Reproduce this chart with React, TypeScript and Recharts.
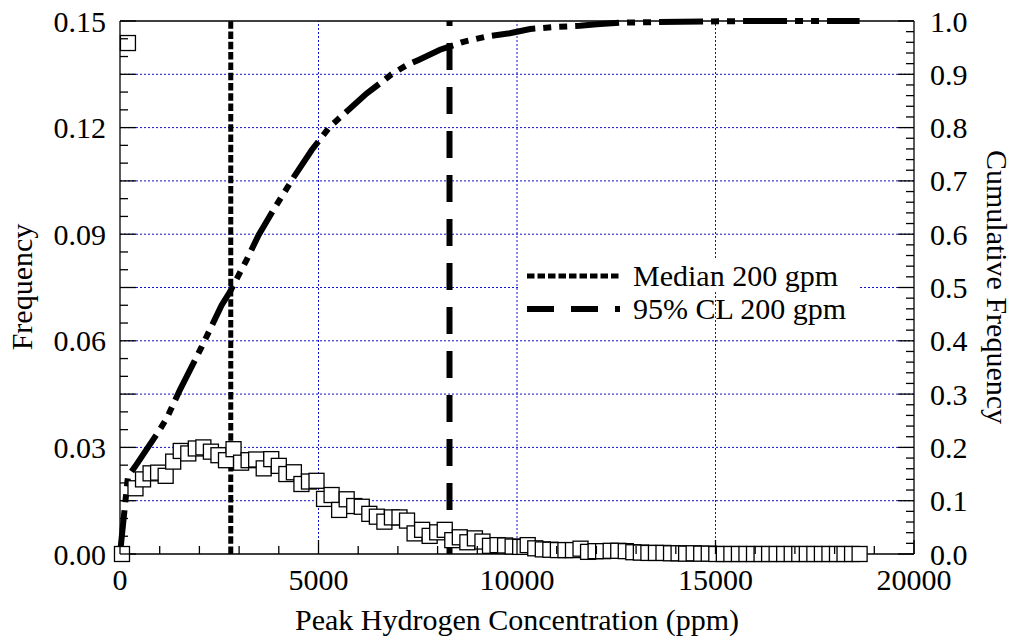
import React from 'react';
import { ComposedChart, Line, Scatter, XAxis, YAxis, ReferenceLine, Legend } from 'recharts';

const FONT = '"Liberation Serif", "Times New Roman", serif';
const FS = 30;

// histogram bins (ppm) and frequency
const freqX = [
  50, 200, 390, 580, 770, 960, 1150, 1340, 1530, 1720, 1910, 2100, 2290, 2480, 2670, 2860, 3050, 3240, 3430, 3620,
  3810, 4000, 4190, 4380, 4570, 4760, 4950, 5140, 5330, 5520, 5710, 5900, 6090, 6280, 6470, 6660, 6850, 7040, 7230, 7420,
  7610, 7800, 7990, 8180, 8370, 8560, 8750, 8940, 9130, 9320, 9510, 9700, 9890, 10080, 10270, 10460, 10650, 10840, 11030, 11220,
  11410, 11600, 11790, 11980, 12170, 12360, 12550, 12740, 12930, 13120, 13310, 13500, 13690, 13880, 14070, 14260, 14450, 14640, 14830, 15020,
  15210, 15400, 15590, 15780, 15970, 16160, 16350, 16540, 16730, 16920, 17110, 17300, 17490, 17680, 17870, 18060, 18250, 18440, 18630,
];
const freqY = [
  0, 0.1438, 0.0185, 0.021, 0.0227, 0.0229, 0.022, 0.026, 0.029, 0.0283, 0.0297, 0.03, 0.0288, 0.0278, 0.0264, 0.0295, 0.0257, 0.0264, 0.0266, 0.0241,
  0.0267, 0.0248, 0.0225, 0.023, 0.0197, 0.0204, 0.0206, 0.0155, 0.0166, 0.0124, 0.0154, 0.0135, 0.0133, 0.0113, 0.0105, 0.0091, 0.0103, 0.0103, 0.0094, 0.0058,
  0.0068, 0.0051, 0.0061, 0.0068, 0.0039, 0.0047, 0.0033, 0.0044, 0.0035, 0.0023, 0.0025, 0.0024, 0.0021, 0.002, 0.0025, 0.0016, 0.0013, 0.0012, 0.0011, 0.0011,
  0.0011, 0.0015, 0.0006, 0.0008, 0.0008, 0.0009, 0.0009, 0.0008, 0.0005, 0.0004, 0.0003, 0.0003, 0.0003, 0.0002, 0.0002, 0.0001, 0.0002, 0.0001, 0.0001, 0,
  0, 0, 0, 0, 0, 0, 0, 0, 0, 0, 0, 0, 0, 0, 0, 0, 0, 0, 0,
];

// cumulative frequency curve
const cumX = [0, 200, 380, 1000, 1180, 1510, 2060, 2560, 2770, 3190, 3490, 3860, 4410, 4830, 5290, 6210, 6550, 6840, 7220, 7520, 8060, 8650, 9240, 9820, 10330, 11000, 11590, 12010, 12680, 13500, 15870, 18630];
const cumY = [0, 0.145, 0.164, 0.233, 0.255, 0.308, 0.389, 0.467, 0.492, 0.552, 0.598, 0.645, 0.711, 0.758, 0.802, 0.864, 0.883, 0.9, 0.917, 0.927, 0.946, 0.961, 0.971, 0.977, 0.985, 0.989, 0.991, 0.994, 0.997, 0.998, 1.0, 1.0];

const medianX = 2790;
const cl95X = 8300;

const xTicks = [0, 1000, 2000, 3000, 4000, 5000, 6000, 7000, 8000, 9000, 10000, 11000, 12000, 13000, 14000, 15000, 16000, 17000, 18000, 19000, 20000];
const xLabels = ['0', '5000', '10000', '15000', '20000'];
const freqTicks = [0, 0.005, 0.01, 0.015, 0.02, 0.025, 0.03, 0.035, 0.04, 0.045, 0.05, 0.055, 0.06, 0.065, 0.07, 0.075, 0.08, 0.085, 0.09, 0.095, 0.1, 0.105, 0.11, 0.115, 0.12, 0.125, 0.13, 0.135, 0.14, 0.145, 0.15];
const freqLabels = ['0.00', '0.03', '0.06', '0.09', '0.12', '0.15'];
const cumTicks = [0, 0.02, 0.04, 0.06, 0.08, 0.1, 0.12, 0.14, 0.16, 0.18, 0.2, 0.22, 0.24, 0.26, 0.28, 0.3, 0.32, 0.34, 0.36, 0.38, 0.4, 0.42, 0.44, 0.46, 0.48, 0.5, 0.52, 0.54, 0.56, 0.58, 0.6, 0.62, 0.64, 0.66, 0.68, 0.7, 0.72, 0.74, 0.76, 0.78, 0.8, 0.82, 0.84, 0.86, 0.88, 0.9, 0.92, 0.94, 0.96, 0.98, 1.0];
const cumLabels = ['0.0', '0.1', '0.2', '0.3', '0.4', '0.5', '0.6', '0.7', '0.8', '0.9', '1.0'];
const gridFreq = [0.015, 0.03, 0.045, 0.06, 0.075, 0.09, 0.105, 0.12, 0.135];
const gridX = [5000, 10000, 15000];

const legendItems = [
  { label: 'Median 200 gpm', dash: '7.5 3', width: 5 },
  { label: '95% CL 200 gpm', dash: '27 17', width: 6 },
];

const freqData = freqX.map((x, i) => ({ x, y: freqY[i] }));
const cumData = cumX.map((x, i) => ({ x, c: cumY[i] }));

const GRID = '#1010d0';
const tickStyle = { fontFamily: FONT, fontSize: FS, fill: '#000' };

const BottomTick = (p: any) => {
  const major = p.index % 5 === 0;
  return (
    <g>
      <line x1={p.x} y1={p.y} x2={p.x} y2={p.y - (major ? 14 : 8)} stroke="#000" strokeWidth={1.3} />
      {major && (
        <text x={p.x} y={p.y + 25} textAnchor="middle" dominantBaseline="central" style={tickStyle}>
          {xLabels[p.index / 5]}
        </text>
      )}
    </g>
  );
};

const TopTick = (p: any) => (
  <line x1={p.x} y1={p.y} x2={p.x} y2={p.y + (p.index % 5 === 0 ? 14 : 8)} stroke="#000" strokeWidth={1.3} />
);

const LeftTick = (p: any) => {
  const major = p.index % 3 === 0;
  const labelled = p.index % 6 === 0;
  return (
    <g>
      <line x1={p.x} y1={p.y} x2={p.x + (major ? 16 : 8)} y2={p.y} stroke="#000" strokeWidth={1.3} />
      {labelled && (
        <text x={p.x - 14} y={p.y} textAnchor="end" dominantBaseline="central" style={tickStyle}>
          {freqLabels[p.index / 6]}
        </text>
      )}
    </g>
  );
};

const RightTick = (p: any) => {
  const major = p.index % 5 === 0;
  return (
    <g>
      <line x1={p.x} y1={p.y} x2={p.x - (major ? 16 : 8)} y2={p.y} stroke="#000" strokeWidth={1.3} />
      {major && (
        <text x={p.x + 16} y={p.y} textAnchor="start" dominantBaseline="central" style={tickStyle}>
          {cumLabels[p.index / 5]}
        </text>
      )}
    </g>
  );
};

const Square = (p: any) => (
  <rect x={p.cx - 7.5} y={p.cy - 7.5} width={15} height={15} fill="#fff" stroke="#000" strokeWidth={1.3} />
);

const renderLegend = () => (
  <div style={{ fontFamily: FONT, fontSize: FS, color: '#000' }}>
    {legendItems.map((it, i) => (
      <div
        key={it.label}
        style={{ display: 'flex', alignItems: 'center', height: 33, paddingLeft: 9, background: i === 0 ? '#fff' : 'transparent' }}
      >
        <svg width={93} height={10}>
          <line x1={0} y1={5} x2={93} y2={5} stroke="#000" strokeWidth={it.width} strokeDasharray={it.dash} />
        </svg>
        <span style={{ marginLeft: 13, lineHeight: '33px', whiteSpace: 'nowrap' }}>{it.label}</span>
      </div>
    ))}
  </div>
);

const axisTitle: React.CSSProperties = {
  position: 'absolute',
  fontFamily: FONT,
  fontSize: FS,
  color: '#000',
  whiteSpace: 'nowrap',
};

export default function App() {
  return (
    <div style={{ position: 'absolute', left: 0, top: 0, width: 1020, height: 640, background: '#fff' }}>
      <ComposedChart width={1020} height={640} margin={{ top: 20, right: 26, bottom: 26, left: 40 }}>
        <XAxis
          dataKey="x"
          type="number"
          domain={[0, 20000]}
          ticks={xTicks}
          interval={0}
          height={60}
          tickSize={0}
          tickMargin={0}
          tick={(p: any) => <BottomTick {...p} />}
          axisLine={{ stroke: '#000', strokeWidth: 1.3 }}
          tickLine={false}
        />
        <XAxis
          xAxisId="top"
          orientation="top"
          dataKey="x"
          type="number"
          domain={[0, 20000]}
          ticks={xTicks}
          interval={0}
          height={1}
          tickSize={0}
          tickMargin={0}
          tick={(p: any) => <TopTick {...p} />}
          axisLine={{ stroke: '#000', strokeWidth: 1.3 }}
          tickLine={false}
        />
        <YAxis
          yAxisId="freq"
          type="number"
          domain={[0, 0.15]}
          ticks={freqTicks}
          interval={0}
          width={80}
          tickSize={0}
          tickMargin={0}
          tick={(p: any) => <LeftTick {...p} />}
          axisLine={{ stroke: '#000', strokeWidth: 1.3 }}
          tickLine={false}
        />
        <YAxis
          yAxisId="cum"
          orientation="right"
          type="number"
          domain={[0, 1]}
          ticks={cumTicks}
          interval={0}
          width={80}
          tickSize={0}
          tickMargin={0}
          tick={(p: any) => <RightTick {...p} />}
          axisLine={{ stroke: '#000', strokeWidth: 1.3 }}
          tickLine={false}
        />
        {gridFreq.map((v) => (
          <ReferenceLine key={'gy' + v} yAxisId="freq" y={v} stroke={GRID} strokeWidth={1} strokeDasharray="2 2" />
        ))}
        {gridX.map((v) => (
          <ReferenceLine key={'gx' + v} yAxisId="freq" x={v} stroke={GRID} strokeWidth={1} strokeDasharray="2 2" />
        ))}
        <ReferenceLine yAxisId="freq" x={medianX} stroke="#000" strokeWidth={5} strokeDasharray="7.5 2.8" />
        <ReferenceLine yAxisId="freq" x={cl95X} stroke="#000" strokeWidth={6} strokeDasharray="27 17" />
        <Line
          data={cumData}
          yAxisId="cum"
          dataKey="c"
          type="linear"
          stroke="#000"
          strokeWidth={6}
          strokeDasharray="44 8 8 8 8 8"
          dot={false}
          activeDot={false}
          isAnimationActive={false}
        />
        <Scatter data={freqData} yAxisId="freq" dataKey="y" shape={Square} isAnimationActive={false} />
        <Legend
          layout="horizontal"
          verticalAlign="middle"
          align="center"
          content={renderLegend}
          wrapperStyle={{ left: 518, top: 259, width: 340 }}
        />
      </ComposedChart>
      <div style={{ ...axisTitle, left: 22, top: 287, transform: 'translate(-50%, -50%) rotate(-90deg)' }}>Frequency</div>
      <div style={{ ...axisTitle, left: 997, top: 287, transform: 'translate(-50%, -50%) rotate(90deg)' }}>
        Cumulative Frequency
      </div>
      <div style={{ ...axisTitle, left: 517, top: 620, transform: 'translate(-50%, -50%)' }}>
        Peak Hydrogen Concentration (ppm)
      </div>
    </div>
  );
}
